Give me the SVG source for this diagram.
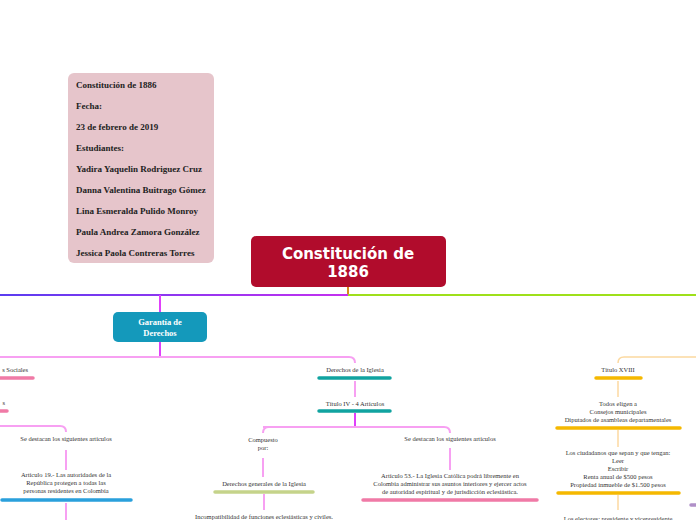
<svg xmlns="http://www.w3.org/2000/svg" width="696" height="520" viewBox="0 0 696 520">
<defs>
<linearGradient id="lg" x1="0" y1="0" x2="348" y2="0" gradientUnits="userSpaceOnUse">
<stop offset="0" stop-color="#5a3cf0"/>
<stop offset="1" stop-color="#c430f0"/>
</linearGradient>
<style>
.t{font-family:"Liberation Serif","DejaVu Serif",serif;font-size:6.5px;fill:#333;text-anchor:middle}
.ib{font-family:"Liberation Serif","DejaVu Serif",serif;font-size:9px;font-weight:bold;fill:#222}
.pk{fill:none;stroke:#f7a0f2;stroke-width:2}
.og{fill:none;stroke:#fcd9a0;stroke-width:1.5}
.bar{stroke-width:3.5;stroke-linecap:round}
</style>
</defs>
<rect width="696" height="520" fill="#fff"/>

<g id="connectors">
<line x1="348" y1="287" x2="348" y2="295" stroke="#d88a1a" stroke-width="2"/>
<line x1="0" y1="295" x2="348" y2="295" stroke="url(#lg)" stroke-width="2"/>
<line x1="348" y1="295" x2="696" y2="295" stroke="#9ee01a" stroke-width="2"/>
<line x1="160" y1="295" x2="160" y2="312" stroke="#e040fb" stroke-width="2"/>
<line x1="160" y1="342" x2="160" y2="357" stroke="#e040fb" stroke-width="2"/>
<path class="pk" d="M0 357 H349 Q355 357 355 363"/>
<line class="pk" x1="355" y1="381" x2="355" y2="397"/>
<line x1="355" y1="413" x2="355" y2="427" stroke="#e040fb" stroke-width="2"/>
<path class="pk" d="M269 427 Q263 427 263 433 M263 427 H444 Q450 427 450 433"/>
<path class="pk" d="M269 427 H355"/>
<line class="pk" x1="263" y1="458" x2="263" y2="477"/>
<line class="pk" x1="264" y1="494" x2="264" y2="510"/>
<line class="pk" x1="450" y1="448" x2="450" y2="470"/>
<path class="pk" d="M0 426 H60 Q66 426 66 432"/>
<line class="pk" x1="66" y1="450" x2="66" y2="470"/>
<line class="pk" x1="66" y1="503" x2="66" y2="520"/>
<path class="og" d="M696 357 H624 Q618 357 618 363"/>
<line class="og" x1="618" y1="381" x2="618" y2="397"/>
<line class="og" x1="618" y1="430" x2="618" y2="447"/>
<line class="og" x1="618" y1="495" x2="618" y2="510"/>
</g>

<g id="info">
<rect x="68" y="73" width="146" height="190" rx="6" fill="#e6c5cb"/>
<text class="ib" x="76" y="88">Constitución de 1886</text>
<text class="ib" x="76" y="109">Fecha:</text>
<text class="ib" x="76" y="130">23 de febrero de 2019</text>
<text class="ib" x="76" y="151">Estudiantes:</text>
<text class="ib" x="76" y="172">Yadira Yaquelin Rodriguez Cruz</text>
<text class="ib" x="76" y="193">Danna Valentina Buitrago Gómez</text>
<text class="ib" x="76" y="214">Lina Esmeralda Pulido Monroy</text>
<text class="ib" x="76" y="235">Paula Andrea Zamora González</text>
<text class="ib" x="76" y="256">Jessica Paola Contreras Torres</text>
</g>

<g id="main">
<rect x="251" y="236" width="195" height="51" rx="5" fill="#b10c2c"/>
<text x="348" y="259" font-family="'DejaVu Sans',Verdana,sans-serif" font-size="15" font-weight="bold" fill="#fff" text-anchor="middle">Constitución de</text>
<text x="348" y="277" font-family="'DejaVu Sans',Verdana,sans-serif" font-size="15" font-weight="bold" fill="#fff" text-anchor="middle">1886</text>
</g>

<g id="garantia">
<rect x="113" y="312" width="94" height="30" rx="5" fill="#1499bb"/>
<text x="160" y="325" font-family="'Liberation Serif',serif" font-size="8.5" font-weight="bold" fill="#fff" text-anchor="middle">Garantía de</text>
<text x="160" y="336" font-family="'Liberation Serif',serif" font-size="8.5" font-weight="bold" fill="#fff" text-anchor="middle">Derechos</text>
</g>

<g id="sociales">
<text class="t" x="28" y="372" text-anchor="end" style="text-anchor:end">s Sociales</text>
<line class="bar" x1="-2" y1="378" x2="33" y2="378" stroke="#f07aa6"/>
<text class="t" x="5" y="405" style="text-anchor:end">s</text>
<line class="bar" x1="-2" y1="411" x2="7" y2="411" stroke="#f07aa6"/>
</g>

<g id="destacan-left">
<text class="t" x="66" y="441">Se destacan los siguientes artículos</text>
</g>

<g id="art19">
<text class="t" x="66" y="477">Artículo 19.- Las autoridades de la</text>
<text class="t" x="66" y="485">República protegen a todas las</text>
<text class="t" x="66" y="493">personas residentes en Colombia</text>
<line class="bar" x1="2" y1="500" x2="131" y2="500" stroke="#2aa0dc"/>
</g>

<g id="iglesia">
<text class="t" x="355" y="372">Derechos de la Iglesia</text>
<line class="bar" x1="319" y1="378" x2="390" y2="378" stroke="#10a3a0"/>
</g>

<g id="titulo4">
<text class="t" x="355" y="406">Título IV - 4 Artículos</text>
<line class="bar" x1="319" y1="411" x2="390" y2="411" stroke="#10a3a0"/>
</g>

<g id="compuesto">
<text class="t" x="263" y="442">Compuesto</text>
<text class="t" x="263" y="450">por:</text>
</g>

<g id="destacan-right">
<text class="t" x="450" y="441">Se destacan los siguientes artículos</text>
</g>

<g id="generales">
<text class="t" x="264" y="486">Derechos generales de la Iglesia</text>
<line class="bar" x1="215" y1="492" x2="313" y2="492" stroke="#c5d38a"/>
</g>

<g id="incompat">
<text class="t" x="264" y="519">Incompatibilidad de funciones eclesiásticas y civiles.</text>
</g>

<g id="art53">
<text class="t" x="450" y="478">Artículo 53.- La Iglesia Católica podrá libremente en</text>
<text class="t" x="450" y="486">Colombia administrar sus asuntos interiores y ejercer actos</text>
<text class="t" x="450" y="494">de autoridad espiritual y de jurisdicción eclesiástica.</text>
<line class="bar" x1="363" y1="500" x2="537" y2="500" stroke="#f07aa6"/>
</g>

<g id="titulo18">
<text class="t" x="618" y="372">Título XVIII</text>
<line class="bar" x1="596" y1="378" x2="641" y2="378" stroke="#f5b800"/>
</g>

<g id="todos">
<text class="t" x="618" y="406">Todos eligen a</text>
<text class="t" x="618" y="414">Consejos municipales</text>
<text class="t" x="618" y="422">Diputados de asambleas departamentales</text>
<line class="bar" x1="557" y1="428" x2="680" y2="428" stroke="#f5b800"/>
</g>

<g id="ciudadanos">
<text class="t" x="618" y="455">Los ciudadanos que sepan y que tengan:</text>
<text class="t" x="618" y="463">Leer</text>
<text class="t" x="618" y="471">Escribir</text>
<text class="t" x="618" y="479">Renta anual de $500 pesos</text>
<text class="t" x="618" y="487">Propiedad inmueble de $1.500 pesos</text>
<line class="bar" x1="558" y1="493" x2="679" y2="493" stroke="#f5b800"/>
</g>

<g id="electores">
<text class="t" x="618" y="521">Los electores: presidente y vicepresidente</text>
</g>

<g id="other">
<line class="bar" x1="691" y1="505" x2="698" y2="505" stroke="#b090c8"/>
</g>
</svg>
